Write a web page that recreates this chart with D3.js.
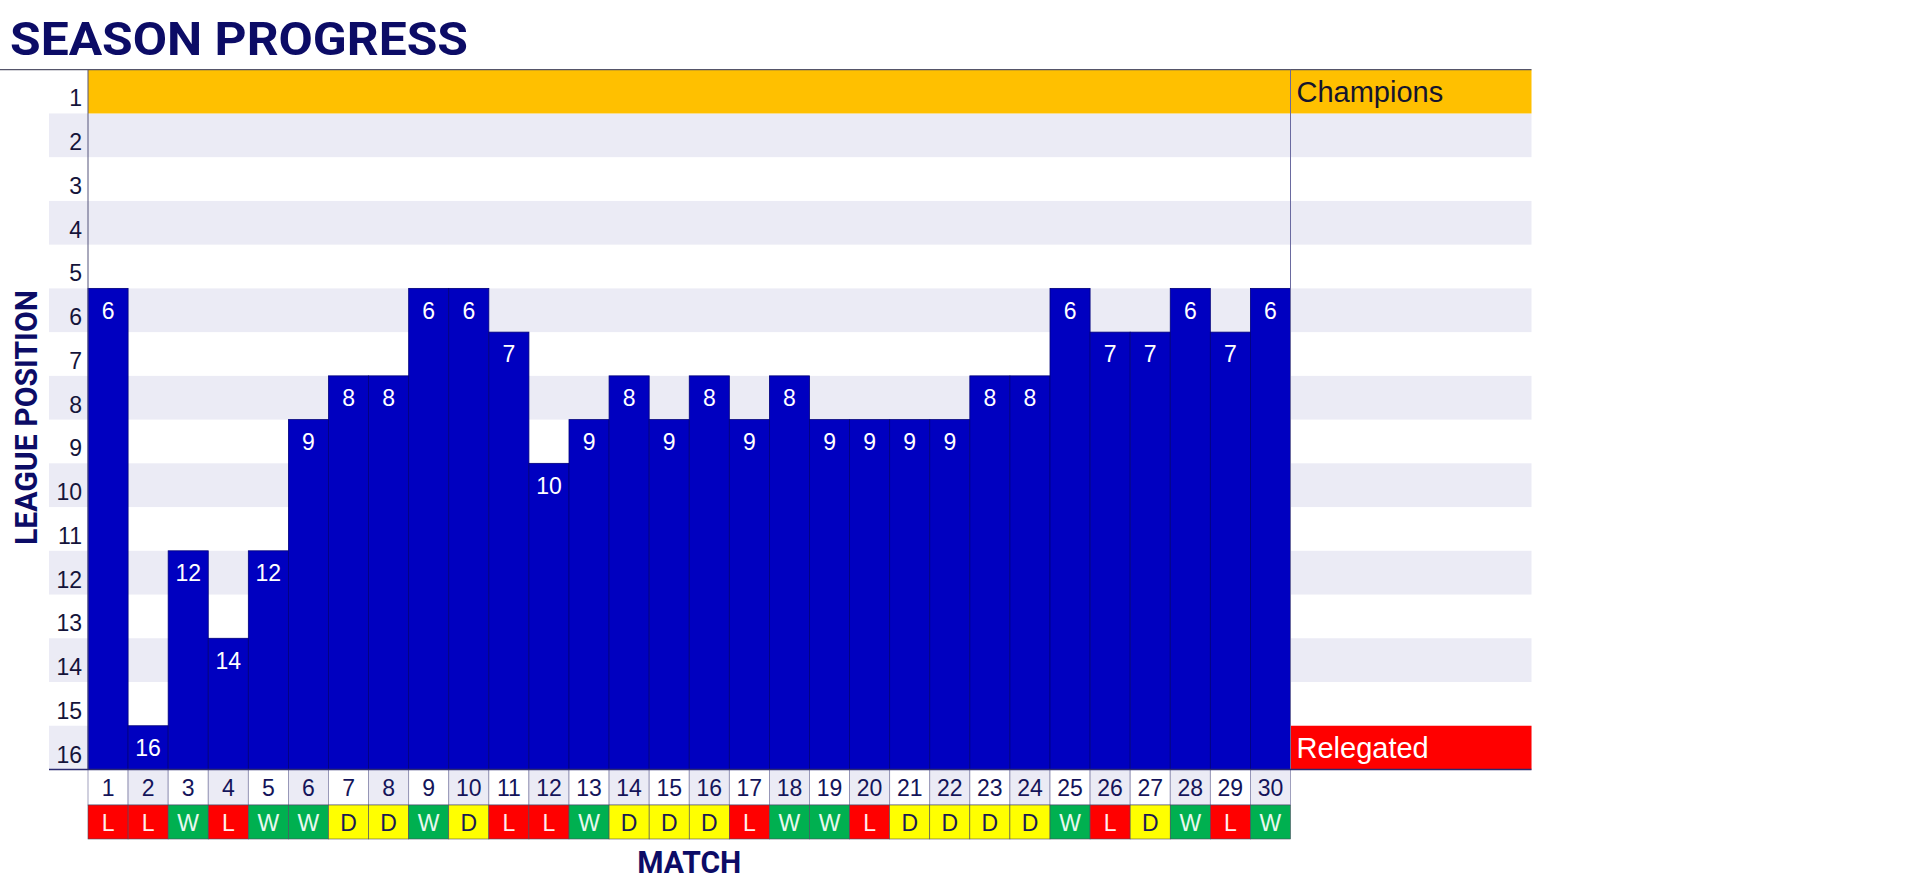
<!DOCTYPE html>
<html>
<head>
<meta charset="utf-8">
<script src="https://cdn.jsdelivr.net/npm/d3@7"></script>
<style>
  html, body { margin: 0; padding: 0; background: #ffffff; }
  svg { display: block; }
</style>
</head>
<body>
<svg id="chart" width="1918" height="882"></svg>
<script>
// ---- DATA ----
const matches = d3.range(1, 31);
const positions = [6, 16, 12, 14, 12, 9, 8, 8, 6, 6, 7, 10, 9, 8, 9, 8, 9, 8, 9, 9, 9, 9, 8, 8, 6, 7, 7, 6, 7, 6];
const results = ["L","L","W","L","W","W","D","D","W","D","L","L","W","D","D","D","L","W","W","L","D","D","D","D","W","L","D","W","L","W"];
const leaguePositions = d3.range(1, 17);
const zoneLabels = [{pos: 1, label: "Champions"}, {pos: 16, label: "Relegated"}];
const titleText = "SEASON PROGRESS";
const yTitle = "LEAGUE POSITION";
const xTitle = "MATCH";

// ---- LAYOUT ----
const plotLeft = 88, plotRight = 1290.5, legendRight = 1531.5;
const plotTop = 69.7, plotBottom = 769.5;
const bandLeft = 49;
const numRowTop = plotBottom, numRowBottom = 805;
const resRowTop = 805, resRowBottom = 839;

const navy = "#0c0c66";
const barColor = "#0000c0";
const lav = "#ebebf5";
const resColor = {W: "#00b050", L: "#ff0000", D: "#ffff00"};
const resText = {W: "#e8f8ee", L: "#ffecec", D: "#1a1a55"};
const zoneColor = {1: "#ffc000", 16: "#ff0000"};
const zoneText = {1: "#15152e", 16: "#ffffff"};
const bodyFont = "'Liberation Sans', Arial, sans-serif";

const svg = d3.select("#chart");
const x = d3.scaleBand().domain(matches).range([plotLeft, plotRight]).padding(0);
const y = d3.scaleBand().domain(leaguePositions).range([plotTop, plotBottom]).padding(0);

// title
svg.append("text")
  .attr("x", 10).attr("y", 55)
  .attr("font-family", "Roboto, 'Liberation Sans', sans-serif")
  .attr("font-weight", 700).attr("font-size", 47)
  .attr("fill", navy)
  .attr("textLength", 458).attr("lengthAdjust", "spacingAndGlyphs")
  .text(titleText);

// bands
svg.append("g").selectAll("rect")
  .data(leaguePositions.filter(p => p % 2 === 0))
  .join("rect")
  .attr("x", bandLeft).attr("y", d => y(d))
  .attr("width", legendRight - bandLeft).attr("height", y.bandwidth())
  .attr("fill", lav);

// champion zone (row 1 across plot + legend)
svg.append("rect")
  .attr("x", plotLeft).attr("y", y(1))
  .attr("width", legendRight - plotLeft).attr("height", y.bandwidth())
  .attr("fill", zoneColor[1]);
// relegation zone (legend only)
svg.append("rect")
  .attr("x", plotRight).attr("y", y(16))
  .attr("width", legendRight - plotRight).attr("height", y.bandwidth())
  .attr("fill", zoneColor[16]);

// zone labels
svg.selectAll("text.zone")
  .data(zoneLabels)
  .join("text")
  .attr("x", plotRight + 6)
  .attr("y", d => y(d.pos) + y.bandwidth() / 2 + 10)
  .attr("font-family", bodyFont)
  .attr("font-size", 29)
  .attr("fill", d => zoneText[d.pos])
  .text(d => d.label);

// bars
const data = matches.map((m, i) => ({m, pos: positions[i], res: results[i]}));
svg.append("g").selectAll("rect")
  .data(data)
  .join("rect")
  .attr("x", d => x(d.m))
  .attr("y", d => y(d.pos))
  .attr("width", x.bandwidth())
  .attr("height", d => plotBottom - y(d.pos))
  .attr("fill", barColor)
  .attr("stroke", "#00007a").attr("stroke-width", 0.8);

// bar labels
svg.append("g").selectAll("text")
  .data(data)
  .join("text")
  .attr("x", d => x(d.m) + x.bandwidth() / 2)
  .attr("y", d => y(d.pos) + y.bandwidth() / 2 + 8.5)
  .attr("text-anchor", "middle")
  .attr("font-family", bodyFont)
  .attr("font-size", 23)
  .attr("fill", "#ffffff")
  .text(d => d.pos);

// y tick labels
svg.append("g").selectAll("text")
  .data(leaguePositions)
  .join("text")
  .attr("x", 82)
  .attr("y", d => y(d) + y.bandwidth() - 7)
  .attr("text-anchor", "end")
  .attr("font-family", bodyFont)
  .attr("font-size", 23)
  .attr("fill", "#14143a")
  .text(d => d);

// frame lines
svg.append("line").attr("x1", 0).attr("x2", legendRight).attr("y1", plotTop).attr("y2", plotTop)
  .attr("stroke", "#55556a").attr("stroke-width", 1.2);
svg.append("line").attr("x1", plotLeft).attr("x2", plotLeft).attr("y1", plotTop).attr("y2", plotBottom)
  .attr("stroke", "#55557a").attr("stroke-width", 1);
svg.append("line").attr("x1", plotRight).attr("x2", plotRight).attr("y1", plotTop).attr("y2", plotBottom)
  .attr("stroke", "#6a6aa0").attr("stroke-width", 1);

// match number cells
svg.append("g").selectAll("rect")
  .data(data)
  .join("rect")
  .attr("x", d => x(d.m)).attr("y", numRowTop)
  .attr("width", x.bandwidth()).attr("height", numRowBottom - numRowTop)
  .attr("fill", d => d.m % 2 === 0 ? lav : "#ffffff")
  .attr("stroke", "#8a8aae").attr("stroke-width", 0.8);
svg.append("g").selectAll("text")
  .data(data)
  .join("text")
  .attr("x", d => x(d.m) + x.bandwidth() / 2)
  .attr("y", (numRowTop + numRowBottom) / 2 + 9)
  .attr("text-anchor", "middle")
  .attr("font-family", bodyFont)
  .attr("font-size", 23)
  .attr("fill", "#14145a")
  .text(d => d.m);

// result cells
svg.append("g").selectAll("rect")
  .data(data)
  .join("rect")
  .attr("x", d => x(d.m)).attr("y", resRowTop)
  .attr("width", x.bandwidth()).attr("height", resRowBottom - resRowTop)
  .attr("fill", d => resColor[d.res])
  .attr("stroke", "#4a4a60").attr("stroke-width", 0.6);
svg.append("g").selectAll("text")
  .data(data)
  .join("text")
  .attr("x", d => x(d.m) + x.bandwidth() / 2)
  .attr("y", (resRowTop + resRowBottom) / 2 + 9)
  .attr("text-anchor", "middle")
  .attr("font-family", bodyFont)
  .attr("font-size", 23)
  .attr("fill", d => resText[d.res])
  .text(d => d.res);

// bottom axis line
svg.append("line").attr("x1", bandLeft).attr("x2", legendRight).attr("y1", plotBottom).attr("y2", plotBottom)
  .attr("stroke", "#2a2a70").attr("stroke-width", 1.5);

// axis titles
svg.append("text")
  .attr("transform", `translate(37, ${(290 + 545) / 2}) rotate(-90)`)
  .attr("text-anchor", "middle")
  .attr("font-family", "Roboto, 'Liberation Sans', sans-serif")
  .attr("font-weight", 700).attr("font-size", 32)
  .attr("fill", navy)
  .attr("textLength", 255).attr("lengthAdjust", "spacingAndGlyphs")
  .text(yTitle);

svg.append("text")
  .attr("x", (plotLeft + plotRight) / 2).attr("y", 873)
  .attr("text-anchor", "middle")
  .attr("font-family", "Roboto, 'Liberation Sans', sans-serif")
  .attr("font-weight", 700).attr("font-size", 31)
  .attr("fill", navy)
  .attr("textLength", 104).attr("lengthAdjust", "spacingAndGlyphs")
  .text(xTitle);
</script>
</body>
</html>
